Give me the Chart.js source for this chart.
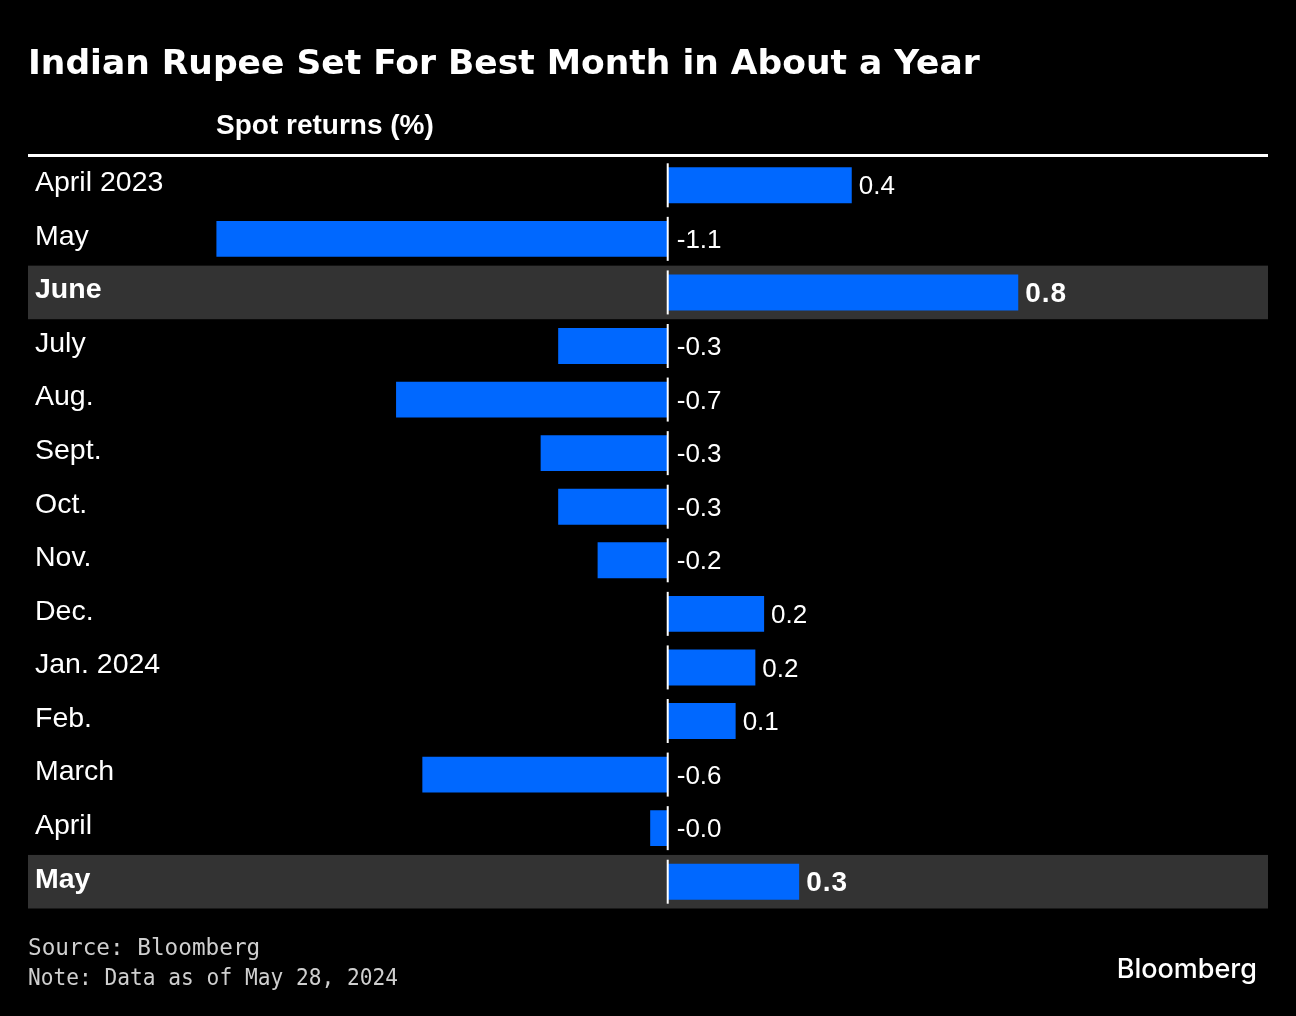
<!DOCTYPE html>
<html>
<head>
<meta charset="utf-8">
<script src="https://cdn.jsdelivr.net/npm/chart.js@4.4.1/dist/chart.umd.min.js"></script>
<style>
  html, body { margin: 0; padding: 0; background: #000; }
  #wrap { position: relative; width: 1296px; height: 1016px; }
</style>
</head>
<body>
<div id="wrap"><canvas id="chart"></canvas></div>
<script>
// months shown on the left
var months = ['April 2023', 'May', 'June', 'July', 'Aug.', 'Sept.', 'Oct.', 'Nov.', 'Dec.', 'Jan. 2024', 'Feb.', 'March', 'April', 'May'];
// spot returns in %
var spotReturns = [0.42, -1.03, 0.80, -0.25, -0.62, -0.29, -0.25, -0.16, 0.22, 0.20, 0.155, -0.56, -0.04, 0.30];
// the printed value labels
var valueLabels = ['0.4', '-1.1', '0.8', '-0.3', '-0.7', '-0.3', '-0.3', '-0.2', '0.2', '0.2', '0.1', '-0.6', '-0.0', '0.3'];
// rows with the grey band + bold text
var highlightRows = [2, 13];

var BLUE = '#0068ff';

var bloombergPlugin = {
  id: 'bloombergLook',
  beforeDraw: function(chart) {
    var ctx = chart.ctx;
    ctx.save();
    ctx.fillStyle = '#000';
    ctx.fillRect(0, 0, chart.width, chart.height);
    ctx.restore();
  },
  beforeDatasetsDraw: function(chart) {
    var ctx = chart.ctx, y = chart.scales.y, area = chart.chartArea;
    var step = (area.bottom - area.top) / months.length;
    ctx.save();
    ctx.fillStyle = '#333333';
    highlightRows.forEach(function(i) {
      var c = y.getPixelForValue(i);
      ctx.fillRect(area.left, c - step / 2, area.right - area.left, step);
    });
    ctx.restore();
  },
  afterDatasetsDraw: function(chart) {
    var ctx = chart.ctx, x = chart.scales.x, y = chart.scales.y, area = chart.chartArea;
    var zero = x.getPixelForValue(0);
    ctx.save();

    // top rule
    ctx.fillStyle = '#fff';
    ctx.fillRect(area.left, 154, area.right - area.left, 3);

    // zero line, one piece per row
    ctx.strokeStyle = '#fff';
    ctx.lineWidth = 2;
    for (var i = 0; i < months.length; i++) {
      var c = y.getPixelForValue(i);
      ctx.beginPath();
      ctx.moveTo(zero, c - 22);
      ctx.lineTo(zero, c + 22);
      ctx.stroke();
    }

    // category + value labels
    ctx.textBaseline = 'middle';
    ctx.fillStyle = '#fff';
    for (var j = 0; j < months.length; j++) {
      var cy = y.getPixelForValue(j);
      var bold = highlightRows.indexOf(j) >= 0;
      ctx.textAlign = 'left';
      ctx.letterSpacing = '0px';
      ctx.font = (bold ? 'bold ' : '') + '28.5px "Liberation Sans", Arial, sans-serif';
      ctx.fillText(months[j], 35, cy - 2);

      ctx.font = bold ? 'bold 28px "Liberation Sans", Arial, sans-serif' : '26px "Liberation Sans", Arial, sans-serif';
      ctx.letterSpacing = bold ? '1px' : '0px';
      var v = spotReturns[j];
      var lx = v > 0 ? x.getPixelForValue(v) + 7 : zero + 9;
      ctx.fillText(valueLabels[j], lx, cy + 2);
    }
    ctx.letterSpacing = '0px';

    // title and subtitle
    ctx.textBaseline = 'alphabetic';
    ctx.font = 'bold 34.5px "DejaVu Sans", sans-serif';
    ctx.fillText('Indian Rupee Set For Best Month in About a Year', 28, 74);
    ctx.font = 'bold 28px "Liberation Sans", Arial, sans-serif';
    ctx.fillText('Spot returns (%)', 216, 134);

    // footer
    ctx.fillStyle = '#cfcfcf';
    ctx.font = '22.7px "DejaVu Sans Mono", monospace';
    ctx.fillText('Source: Bloomberg', 28, 955);
    ctx.fillText('Note: Data as of May 28, 2024', 28, 985, 370);

    ctx.fillStyle = '#fff';
    ctx.font = '500 27px Inter, sans-serif';
    ctx.textAlign = 'right';
    ctx.fillText('Bloomberg', 1257, 978);
    ctx.restore();
  }
};

new Chart(document.getElementById('chart'), {
  type: 'bar',
  data: {
    labels: months,
    datasets: [{
      label: 'Spot returns (%)',
      data: spotReturns,
      backgroundColor: BLUE,
      borderWidth: 0,
      barPercentage: 0.67,
      categoryPercentage: 1.0
    }]
  },
  options: {
    indexAxis: 'y',
    responsive: true,
    maintainAspectRatio: false,
    animation: false,
    devicePixelRatio: 1,
    layout: { padding: { left: 28, right: 28, top: 158.5, bottom: 107.5 } },
    plugins: {
      legend: { display: false },
      tooltip: { enabled: false }
    },
    scales: {
      x: { display: false, min: -1.46, max: 1.37, grid: { display: false } },
      y: { display: false, grid: { display: false } }
    }
  },
  plugins: [bloombergPlugin]
});
</script>
</body>
</html>
